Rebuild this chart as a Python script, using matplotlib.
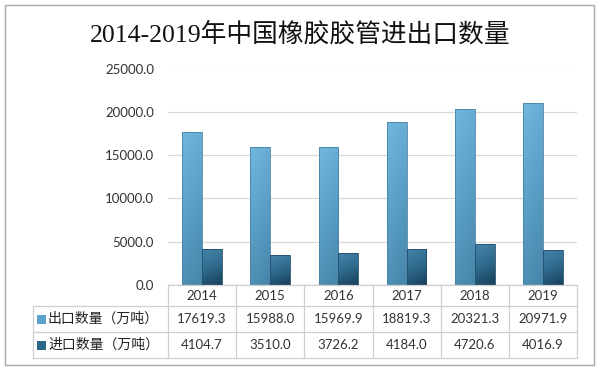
import numpy as np
import matplotlib
matplotlib.use("Agg")
import matplotlib.pyplot as plt
from matplotlib.colors import LinearSegmentedColormap
from matplotlib.patches import Rectangle
from matplotlib.lines import Line2D

years = ["2014", "2015", "2016", "2017", "2018", "2019"]
export_qty = [17619.3, 15988.0, 15969.9, 18819.3, 20321.3, 20971.9]
import_qty = [4104.7, 3510.0, 3726.2, 4184.0, 4720.6, 4016.9]
series_names = ["出口数量（万吨）", "进口数量（万吨）"]
yticks = [0, 5000, 10000, 15000, 20000, 25000]
title = "2014-2019年中国橡胶胶管进出口数量"

W, H = 600, 370
AX_L, AX_R, AX_B, AX_T = 168, 577, 285, 68.5

export_cmap = LinearSegmentedColormap.from_list("exp", ["#71b6dc", "#5a9fc6", "#4785a8"])
import_cmap = LinearSegmentedColormap.from_list("imp", ["#4585a9", "#2f6a8d", "#173f59"])

num_font = ["Lato", "DejaVu Sans"]
cjk_font = ["Noto Sans CJK SC", "DejaVu Sans"]


def fx(px):
    return (px - AX_L) / (AX_R - AX_L)


def fy(py):
    return (AX_B - py) / (AX_B - AX_T)


def gradient_fill(ax, bars, cmap):
    # light at the top, darker towards the bottom right
    yy, xx = np.mgrid[0:1:60j, 0:1:20j]
    grad = 0.8 * yy + 0.2 * xx
    for b in bars:
        x0, w, h = b.get_x(), b.get_width(), b.get_height()
        im = ax.imshow(grad, extent=[x0, x0 + w, 0, h], origin="upper",
                       aspect="auto", cmap=cmap, zorder=2, interpolation="bilinear")
        im.set_clip_path(b)


fig = plt.figure(figsize=(W / 100, H / 100), dpi=100)
ax = fig.add_axes([AX_L / W, 1 - AX_B / H, (AX_R - AX_L) / W, (AX_B - AX_T) / H])

x = np.arange(len(years))
bw = 0.29
b1 = ax.bar(x - bw / 2, export_qty, bw, facecolor="none", edgecolor="#4a82a3", lw=0.6, zorder=3)
b2 = ax.bar(x + bw / 2, import_qty, bw, facecolor="none", edgecolor="#1f4d69", lw=0.6, zorder=3)
gradient_fill(ax, b1, export_cmap)
gradient_fill(ax, b2, import_cmap)

ax.set_xlim(-0.5, len(years) - 0.5)
ax.set_ylim(0, 25000)
ax.set_yticks(yticks)
ax.set_yticklabels([f"{v:.1f}" for v in yticks], family=num_font, fontsize=9.5, color="#333333")
ax.tick_params(axis="y", length=0, pad=10)
ax.set_xticks([])
ax.grid(axis="y", color="#d9d9d9", lw=0.9, zorder=0)
ax.set_axisbelow(True)
for s in ax.spines.values():
    s.set_visible(False)

# data table under the plot
line_kw = dict(color="#cfcfcf", lw=0.9, transform=ax.transAxes, clip_on=False)
rows = [306, 332, 358]
ax.add_line(Line2D([0, 1], [0, 0], **line_kw))
for py in rows:
    ax.add_line(Line2D([fx(33), 1], [fy(py), fy(py)], **line_kw))
for i in range(len(years) + 1):
    xv = i / len(years)
    ax.add_line(Line2D([xv, xv], [0, fy(358)], **line_kw))
ax.add_line(Line2D([fx(33), fx(33)], [fy(306), fy(358)], **line_kw))

centers_y = [fy(296), fy(319), fy(345)]
for i, yr in enumerate(years):
    xc = (i + 0.5) / len(years)
    ax.text(xc, centers_y[0], yr, transform=ax.transAxes, ha="center", va="center",
            family=num_font, fontsize=9.5, color="#333333")
    ax.text(xc, centers_y[1], f"{export_qty[i]:.1f}", transform=ax.transAxes, ha="center",
            va="center", family=num_font, fontsize=9.5, color="#333333")
    ax.text(xc, centers_y[2], f"{import_qty[i]:.1f}", transform=ax.transAxes, ha="center",
            va="center", family=num_font, fontsize=9.5, color="#333333")

for name, cy, col in zip(series_names, centers_y[1:], ["#5aa2cb", "#2c6688"]):
    sq_w = 9 / (AX_R - AX_L)
    sq_h = 9 / (AX_B - AX_T)
    ax.add_patch(Rectangle((fx(37), cy - sq_h / 2), sq_w, sq_h, transform=ax.transAxes,
                           facecolor=col, edgecolor="none", clip_on=False))
    ax.text(fx(48), cy, name, transform=ax.transAxes, ha="left", va="center",
            family=cjk_font, fontsize=10, fontweight="medium", color="#222222")

fig.text(0.5, 1 - 34 / H, title, ha="center", va="center", fontsize=18.5,
         family=["Liberation Serif", "Noto Sans CJK SC"], color="#111111")

fig.add_artist(Rectangle((5 / W, 1 - 365 / H), 589 / W, 360 / H, transform=fig.transFigure,
                         facecolor="none", edgecolor="#a8a8a8", lw=1))

fig.savefig("out.png", dpi=100)
